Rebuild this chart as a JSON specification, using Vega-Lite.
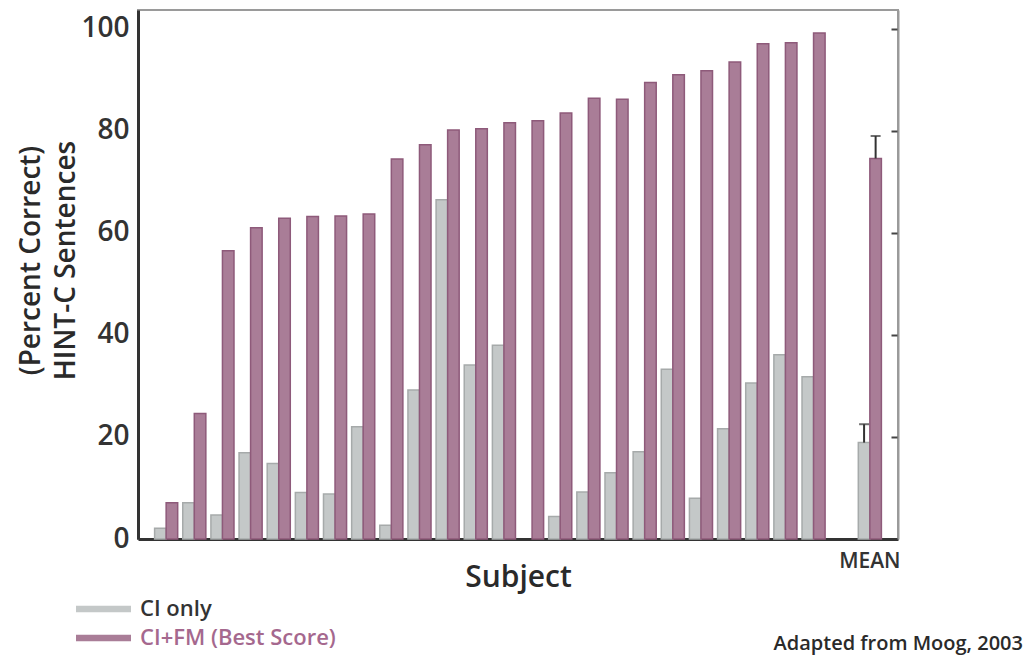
{
  "$schema": "https://vega.github.io/schema/vega-lite/v6.json",
  "width": 760,
  "height": 529,
  "autosize": "none",
  "padding": {"left": 138, "top": 10, "right": 129, "bottom": 118},
  "background": "white",
  "config": {
    "font": "Open Sans",
    "view": {"stroke": "#9a9a9a", "strokeWidth": 2}
  },
  "title": {
    "text": "Adapted from Moog, 2003",
    "orient": "bottom",
    "anchor": "end",
    "frame": "group",
    "baseline": "top",
    "dx": 125,
    "dy": -19,
    "fontSize": 20,
    "fontWeight": 600,
    "color": "#2a2a2a",
    "font": "Open Sans"
  },
  "data": {
    "values": [
      {"subject": "s1", "series": "CI only", "value": 2.1},
      {"subject": "s1", "series": "CI+FM (Best Score)", "value": 7.1},
      {"subject": "s2", "series": "CI only", "value": 7.1},
      {"subject": "s2", "series": "CI+FM (Best Score)", "value": 24.6},
      {"subject": "s3", "series": "CI only", "value": 4.7},
      {"subject": "s3", "series": "CI+FM (Best Score)", "value": 56.5},
      {"subject": "s4", "series": "CI only", "value": 16.9},
      {"subject": "s4", "series": "CI+FM (Best Score)", "value": 61.0},
      {"subject": "s5", "series": "CI only", "value": 14.8},
      {"subject": "s5", "series": "CI+FM (Best Score)", "value": 62.9},
      {"subject": "s6", "series": "CI only", "value": 9.1},
      {"subject": "s6", "series": "CI+FM (Best Score)", "value": 63.2},
      {"subject": "s7", "series": "CI only", "value": 8.8},
      {"subject": "s7", "series": "CI+FM (Best Score)", "value": 63.3},
      {"subject": "s8", "series": "CI only", "value": 22.0},
      {"subject": "s8", "series": "CI+FM (Best Score)", "value": 63.7},
      {"subject": "s9", "series": "CI only", "value": 2.7},
      {"subject": "s9", "series": "CI+FM (Best Score)", "value": 74.5},
      {"subject": "s10", "series": "CI only", "value": 29.2},
      {"subject": "s10", "series": "CI+FM (Best Score)", "value": 77.3},
      {"subject": "s11", "series": "CI only", "value": 66.5},
      {"subject": "s11", "series": "CI+FM (Best Score)", "value": 80.2},
      {"subject": "s12", "series": "CI only", "value": 34.1},
      {"subject": "s12", "series": "CI+FM (Best Score)", "value": 80.4},
      {"subject": "s13", "series": "CI only", "value": 38.0},
      {"subject": "s13", "series": "CI+FM (Best Score)", "value": 81.6},
      {"subject": "s14", "series": "CI+FM (Best Score)", "value": 82.0},
      {"subject": "s15", "series": "CI only", "value": 4.4},
      {"subject": "s15", "series": "CI+FM (Best Score)", "value": 83.5},
      {"subject": "s16", "series": "CI only", "value": 9.2},
      {"subject": "s16", "series": "CI+FM (Best Score)", "value": 86.4},
      {"subject": "s17", "series": "CI only", "value": 13.0},
      {"subject": "s17", "series": "CI+FM (Best Score)", "value": 86.2},
      {"subject": "s18", "series": "CI only", "value": 17.1},
      {"subject": "s18", "series": "CI+FM (Best Score)", "value": 89.5},
      {"subject": "s19", "series": "CI only", "value": 33.3},
      {"subject": "s19", "series": "CI+FM (Best Score)", "value": 91.0},
      {"subject": "s20", "series": "CI only", "value": 8.0},
      {"subject": "s20", "series": "CI+FM (Best Score)", "value": 91.8},
      {"subject": "s21", "series": "CI only", "value": 21.6},
      {"subject": "s21", "series": "CI+FM (Best Score)", "value": 93.5},
      {"subject": "s22", "series": "CI only", "value": 30.6},
      {"subject": "s22", "series": "CI+FM (Best Score)", "value": 97.1},
      {"subject": "s23", "series": "CI only", "value": 36.1},
      {"subject": "s23", "series": "CI+FM (Best Score)", "value": 97.3},
      {"subject": "s24", "series": "CI only", "value": 31.8},
      {"subject": "s24", "series": "CI+FM (Best Score)", "value": 99.2},
      {"subject": "MEAN", "series": "CI only", "value": 18.9, "hi": 22.5},
      {"subject": "MEAN", "series": "CI+FM (Best Score)", "value": 74.6, "hi": 79.0}
    ]
  },
  "encoding": {
    "x": {
      "field": "subject",
      "type": "nominal",
      "sort": null,
      "scale": {
        "domain": ["s1","s2","s3","s4","s5","s6","s7","s8","s9","s10","s11","s12","s13","s14","s15","s16","s17","s18","s19","s20","s21","s22","s23","s24","blank","MEAN"],
        "paddingInner": 0.18,
        "paddingOuter": 0.59
      },
      "axis": {
        "title": "Subject",
        "titleFontSize": 30,
        "titleFontWeight": 600,
        "titleColor": "#2a2a2a",
        "titleFont": "Open Sans",
        "titleY": 47,
        "titleBaseline": "alphabetic",
        "labelExpr": "datum.value == 'MEAN' ? 'MEAN' : ''",
        "labelAngle": 0,
        "labelFontSize": 21,
        "labelFontWeight": 600,
        "labelColor": "#333333",
        "labelPadding": 11,
        "ticks": false,
        "domainColor": "#333333",
        "domainWidth": 3,
        "grid": false
      }
    },
    "xOffset": {
      "field": "series",
      "type": "nominal",
      "scale": {"domain": ["CI only", "CI+FM (Best Score)"]}
    }
  },
  "layer": [
    {
      "mark": {"type": "bar", "strokeWidth": 1.5},
      "encoding": {
        "y": {
          "field": "value",
          "type": "quantitative",
          "scale": {"domain": [0, 103.7], "nice": false, "zero": true},
          "axis": {
            "title": ["(Percent Correct)", "HINT-C Sentences"],
            "titleFontSize": 28,
            "titleFontWeight": 600,
            "titleColor": "#2a2a2a",
            "titleLineHeight": 35,
            "titleY": 250,
            "titleX": -93,
            "titleAngle": -90,
            "titleBaseline": "bottom",
            "values": [0, 20, 40, 60, 80, 100],
            "labelFontSize": 28,
            "labelFontWeight": 600,
            "labelColor": "#333333",
            "labelPadding": 9,
            "ticks": false,
            "grid": false,
            "domainColor": "#333333",
            "domainWidth": 3
          }
        },
        "color": {
          "field": "series",
          "type": "nominal",
          "scale": {
            "domain": ["CI only", "CI+FM (Best Score)"],
            "range": ["#c4c8c8", "#a97d97"]
          },
          "legend": {
            "title": null,
            "orient": "none",
            "legendX": -45.5,
            "legendY": 588,
            "symbolType": "M-2.75,-0.32H2.75V0.32H-2.75Z",
            "symbolSize": 400,
            "symbolStrokeWidth": 0,
            "labelFontSize": 22,
            "labelFontWeight": 600,
            "labelFont": "Open Sans",
            "labelOffset": 25.5,
            "labelLimit": 0,
            "rowPadding": 7,
            "encode": {
              "labels": {
                "update": {
                  "fill": {"signal": "datum.label === 'CI only' ? '#333333' : '#a5688e'"}
                }
              }
            }
          }
        },
        "stroke": {
          "field": "series",
          "type": "nominal",
          "scale": {
            "domain": ["CI only", "CI+FM (Best Score)"],
            "range": ["#a6aaaa", "#8e5a7a"]
          },
          "legend": null
        }
      }
    },
    {
      "transform": [{"filter": "isValid(datum.hi)"}],
      "mark": {"type": "rule", "color": "#333333", "strokeWidth": 2},
      "encoding": {
        "y": {
          "field": "value",
          "type": "quantitative",
          "axis": {
            "orient": "right",
            "title": null,
            "labels": false,
            "values": [20, 40, 60, 80, 100],
            "ticks": true,
            "tickSize": -7,
            "tickWidth": 2,
            "tickColor": "#444444",
            "domainColor": "#9a9a9a",
            "domainWidth": 2,
            "grid": false
          }
        },
        "y2": {"field": "hi"}
      }
    },
    {
      "transform": [{"filter": "isValid(datum.hi)"}],
      "mark": {"type": "tick", "color": "#333333", "thickness": 2, "size": 10},
      "encoding": {
        "y": {"field": "hi", "type": "quantitative", "axis": null}
      }
    }
  ],
  "resolve": {"axis": {"y": "independent"}}
}
